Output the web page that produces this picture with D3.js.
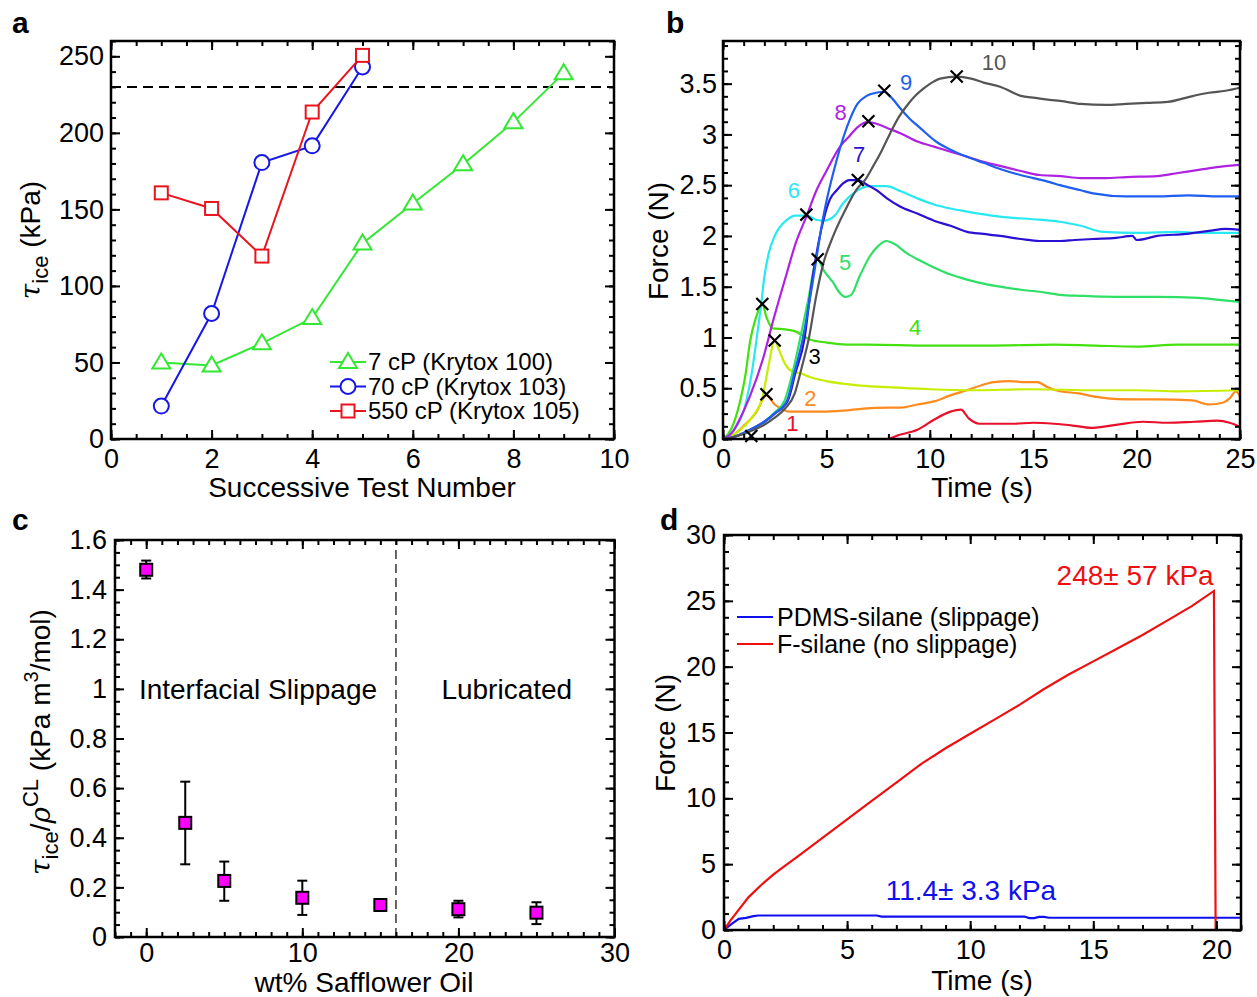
<!DOCTYPE html>
<html>
<head>
<meta charset="utf-8">
<script src="https://cdn.jsdelivr.net/npm/d3@7"></script>
<style>
  body { margin: 0; background: #fff; }
  text { font-family: "Liberation Sans", Arial, sans-serif; fill: #000; }
</style>
</head>
<body>
<script>
// ---- panel a: ice adhesion vs successive test number ----
const aTests103 = [1, 2, 3, 4, 5];
const aTests100 = [1, 2, 3, 4, 5, 6, 7, 8, 9];
const aKrytox100 = [50, 48, 62.5, 79, 127.7, 153.8, 179.5, 207, 239];
const aKrytox103 = [21.5, 82, 180.6, 191.5, 243];
const aKrytox105 = [160.8, 150.6, 119.5, 213.6, 250.6];
const aThreshold = 230;
const aLegend = ["7 cP (Krytox 100)", "70 cP (Krytox 103)", "550 cP (Krytox 105)"];
const aXTicks = [0, 2, 4, 6, 8, 10];
const aYTicks = [0, 50, 100, 150, 200, 250];

// ---- panel b: force traces, [time s, force N] ----
const bCurve1 = [[0,0],[1,0],[3,0],[5,0],[7.9,0],[8.5,0.04],[9.4,0.09],[10.2,0.19],[11,0.27],[11.5,0.29],[11.9,0.2],[12.4,0.15],[13,0.15],[14,0.15],[15,0.16],[16,0.15],[17,0.13],[17.8,0.11],[19,0.14],[20.3,0.17],[21.5,0.16],[22.8,0.17],[23.9,0.18],[24.5,0.16],[25,0.12]];
const bCurve2 = [[0,0],[0.5,0.04],[1,0.13],[1.6,0.26],[2.1,0.43],[2.5,0.34],[2.8,0.3],[3.2,0.27],[4,0.27],[4.8,0.27],[5.8,0.28],[6.8,0.3],[8,0.31],[8.6,0.31],[9.4,0.34],[10.2,0.37],[11,0.43],[11.8,0.48],[12.5,0.53],[13.1,0.56],[13.9,0.57],[14.6,0.56],[15.2,0.56],[15.7,0.51],[16.3,0.47],[17.2,0.45],[17.9,0.42],[19.5,0.39],[21,0.39],[22.7,0.38],[23.5,0.34],[24.2,0.36],[24.5,0.4],[24.8,0.47],[25,0.42]];
const bCurve3 = [[0,0],[0.5,0.04],[1,0.12],[1.5,0.24],[1.9,0.4],[2.2,0.72],[2.5,0.97],[2.7,0.88],[3,0.74],[3.4,0.66],[3.7,0.65],[4.2,0.61],[5,0.57],[6,0.54],[7,0.52],[8,0.51],[10,0.49],[12,0.48],[15,0.49],[18,0.48],[20,0.48],[22,0.47],[25,0.48]];
const bCurve4 = [[0,0],[0.4,0.1],[0.8,0.35],[1.1,0.65],[1.3,0.95],[1.6,1.2],[1.9,1.33],[2.1,1.2],[2.4,1.09],[3,1.08],[3.5,1.06],[4.2,0.98],[5,0.95],[6,0.93],[7,0.93],[10,0.92],[13,0.92],[16,0.93],[18,0.92],[20,0.91],[22,0.93],[25,0.93]];
const bCurve5 = [[0,0],[0.5,0.02],[1,0.06],[1.5,0.11],[2,0.17],[2.5,0.26],[2.98,0.38],[3.3,0.6],[3.74,1],[4.1,1.35],[4.56,1.77],[4.9,1.65],[5.33,1.54],[5.6,1.45],[5.9,1.4],[6.2,1.42],[6.6,1.6],[7.1,1.8],[7.5,1.9],[7.9,1.95],[8.3,1.92],[8.88,1.83],[9.5,1.76],[10.2,1.69],[11,1.62],[11.8,1.57],[12.6,1.53],[13.4,1.5],[14.4,1.47],[15.3,1.45],[16.3,1.42],[17.3,1.41],[19,1.4],[21,1.4],[23,1.39],[24,1.37],[25,1.35]];
const bCurve6 = [[0,0],[0.5,0.08],[1.06,0.32],[1.39,0.65],[1.66,1.04],[1.85,1.33],[1.98,1.57],[2.2,1.82],[2.5,2],[3.1,2.16],[3.5,2.2],[4.05,2.2],[4.5,2.16],[4.9,2.15],[5.4,2.2],[5.8,2.32],[6.3,2.42],[6.7,2.47],[7.1,2.49],[7.9,2.49],[8.6,2.44],[9.4,2.37],[10.2,2.31],[11,2.27],[11.8,2.24],[13.4,2.19],[15.3,2.16],[16.3,2.14],[17.3,2.1],[18.4,2.04],[20,2.03],[22,2.04],[23,2.03],[25,2.03]];
const bCurve7 = [[0,0],[0.5,0.02],[1,0.06],[1.5,0.11],[2,0.17],[2.5,0.25],[3.14,0.38],[3.5,0.65],[3.95,1],[4.2,1.4],[4.5,1.8],[4.85,2.15],[5.17,2.36],[5.5,2.45],[5.82,2.52],[6.1,2.55],[6.5,2.55],[7,2.5],[7.43,2.45],[8,2.36],[8.56,2.29],[9.4,2.22],[10.2,2.15],[11,2.1],[11.8,2.04],[12.6,2.02],[13.4,2],[14.4,1.97],[15.3,1.95],[16.3,1.95],[17,1.96],[17.9,1.97],[19,1.98],[19.8,2],[20,1.96],[21,2],[22.4,2.02],[23.5,2.05],[24.3,2.07],[25,2.06]];
const bCurve8 = [[0,0],[0.5,0.08],[0.82,0.2],[1.3,0.42],[1.95,0.8],[2.43,1.17],[3.08,1.63],[3.5,1.92],[4.05,2.2],[4.5,2.44],[5,2.64],[5.66,2.88],[6.1,2.98],[6.5,3.07],[7,3.12],[7.5,3.1],[8.1,3.05],[8.6,3.01],[9.4,2.93],[10.2,2.88],[11,2.83],[11.8,2.78],[12.6,2.73],[13.4,2.69],[14.4,2.64],[15.3,2.6],[16.3,2.59],[17.3,2.57],[18.5,2.57],[19.5,2.58],[21,2.59],[22,2.62],[23,2.65],[24,2.68],[25,2.7]];
const bCurve9 = [[0,0],[0.5,0.02],[1,0.06],[1.5,0.11],[2,0.17],[2.5,0.25],[3.1,0.38],[3.45,0.65],[3.87,1],[4.3,1.5],[4.85,2.19],[5.5,2.75],[6.14,3.15],[6.5,3.3],[6.95,3.38],[7.4,3.41],[7.8,3.42],[8.2,3.35],[8.56,3.26],[9,3.16],[9.5,3.07],[10.3,2.93],[11,2.85],[11.8,2.78],[12.6,2.72],[13.4,2.66],[14.2,2.61],[15,2.57],[15.8,2.53],[16.3,2.5],[17.3,2.45],[17.9,2.42],[19.5,2.39],[21,2.39],[22.5,2.4],[24,2.39],[25,2.39]];
const bCurve10 = [[0,0],[0.5,0.02],[1,0.05],[1.5,0.09],[2,0.14],[2.5,0.21],[3,0.3],[3.47,0.45],[3.8,0.7],[4.16,1],[4.5,1.4],[4.84,1.72],[5.33,2],[5.9,2.25],[6.47,2.46],[6.9,2.56],[7.27,2.69],[7.7,2.85],[8.08,3.01],[8.5,3.17],[8.88,3.28],[9.3,3.38],[9.69,3.45],[10.1,3.51],[10.5,3.55],[11.3,3.57],[12,3.55],[12.6,3.51],[13.4,3.47],[14.4,3.38],[15.1,3.36],[15.8,3.34],[16.3,3.33],[17.3,3.3],[18.5,3.29],[19.5,3.3],[20.5,3.31],[21.5,3.32],[22.75,3.38],[23.5,3.41],[24.3,3.43],[25,3.46]];
const bColors = ["#e8102a", "#ff8a1e", "#c6ee00", "#44e010", "#2ee066", "#28e8f2", "#2a10d2", "#b022e2", "#1e5ef0", "#555555"];
const bPeaks = [[1.37,0.03],[2.1,0.44],[2.5,0.97],[1.9,1.33],[4.58,1.77],[4.03,2.21],[6.52,2.55],[7.03,3.13],[7.8,3.43],[11.3,3.57]];
const bLabelPos = [[3.36,0.15],[4.23,0.4],[4.43,0.81],[9.29,1.1],[5.9,1.74],[3.43,2.45],[6.58,2.8],[5.69,3.22],[8.85,3.51],[13.1,3.71]];
const bLabelColors = ["#e8102a", "#ff8a1e", "#000000", "#44e010", "#2ee066", "#28e8f2", "#2a10d2", "#b022e2", "#1e5ef0", "#555555"];
const bXTicks = [0, 5, 10, 15, 20, 25];
const bYTicks = [0, 0.5, 1, 1.5, 2, 2.5, 3, 3.5];

// ---- panel c: normalised adhesion vs safflower oil ----
const cOil = [0, 2.5, 5, 10, 15, 20, 25];
const cMean = [1.48, 0.46, 0.226, 0.158, 0.129, 0.112, 0.098];
const cLow = [1.445, 0.293, 0.146, 0.089, 0.105, 0.079, 0.052];
const cHigh = [1.517, 0.626, 0.304, 0.227, 0.152, 0.146, 0.14];
const cBoundary = 16;
const cXTicks = [0, 10, 20, 30];
const cYTicks = [0, 0.2, 0.4, 0.6, 0.8, 1, 1.2, 1.4, 1.6];

// ---- panel d: force traces, [time s, force N] ----
const dPdms = [[0,0],[0.3,0.45],[0.6,0.85],[0.9,0.92],[1.2,1.05],[1.4,1.1],[6.2,1.1],[6.4,1.02],[12.2,1.02],[12.4,0.9],[12.6,0.9],[12.8,1.0],[13,1.0],[13.2,0.93],[21,0.93]];
const dFsilane = [[0,0],[0.25,0.7],[0.5,1.3],[1,2.5],[1.5,3.4],[2,4.2],[2.5,4.9],[3,5.6],[4,7.0],[5,8.4],[6,9.8],[7,11.2],[8,12.6],[9,13.8],[10,14.9],[11,16],[12,17.1],[13,18.3],[14,19.4],[15,20.4],[16,21.4],[17,22.4],[18,23.5],[19,24.6],[19.9,25.75],[19.97,0],[21,0]];
const dLegend = ["PDMS-silane (slippage)", "F-silane (no slippage)"];
const dXTicks = [0, 5, 10, 15, 20];
const dYTicks = [0, 5, 10, 15, 20, 25, 30];

const W = 1257, H = 997;
const svg = d3.select("body").append("svg").attr("width", W).attr("height", H);
const fmt = d3.format("~g");

// frame with inward ticks on all four sides
function frame(g, x, y, o) {
  const [y0, y1] = y.range(), [x0, x1] = x.range();
  const add = (axis, tr) => g.append("g").attr("transform", tr).call(axis)
    .call(s => s.select(".domain").remove())
    .call(s => s.selectAll("line").attr("stroke", "#000").attr("stroke-width", 2))
    .call(s => s.selectAll("text").attr("font-size", 27).attr("font-family", null).attr("fill", "#000"));
  add(d3.axisBottom(x).tickValues(o.xMajor).tickSize(-9).tickPadding(o.padX).tickFormat(fmt), `translate(0,${y0})`);
  add(d3.axisBottom(x).tickValues(o.xMinor).tickSize(-5).tickFormat(""), `translate(0,${y0})`);
  add(d3.axisTop(x).tickValues(o.xMajor).tickSize(-9).tickFormat(""), `translate(0,${y1})`);
  add(d3.axisTop(x).tickValues(o.xMinor).tickSize(-5).tickFormat(""), `translate(0,${y1})`);
  add(d3.axisLeft(y).tickValues(o.yMajor).tickSize(-9).tickPadding(o.padY).tickFormat(fmt), `translate(${x0},0)`);
  add(d3.axisLeft(y).tickValues(o.yMinor).tickSize(-5).tickFormat(""), `translate(${x0},0)`);
  add(d3.axisRight(y).tickValues(o.yMajor).tickSize(-9).tickFormat(""), `translate(${x1},0)`);
  add(d3.axisRight(y).tickValues(o.yMinor).tickSize(-5).tickFormat(""), `translate(${x1},0)`);
  g.append("rect").attr("x", x0).attr("y", y1).attr("width", x1 - x0).attr("height", y0 - y1)
    .attr("fill", "none").attr("stroke", "#000").attr("stroke-width", 2.5);
}

function steps(a, b, s) { return d3.range(a, b + s / 2, s); }

function panelLetter(t, x, y) {
  svg.append("text").attr("x", x).attr("y", y).attr("font-size", 30).attr("font-weight", "bold").text(t);
}

function xLabel(t, x, y) {
  svg.append("text").attr("x", x).attr("y", y).attr("text-anchor", "middle").attr("font-size", 28).text(t);
}

// ================= panel a =================
{
  const x = d3.scaleLinear().domain([0, 10]).range([111, 614]);
  const y = d3.scaleLinear().domain([0, 260]).range([439, 41]);
  const g = svg.append("g");
  g.append("line").attr("x1", x(0)).attr("x2", x(10)).attr("y1", y(aThreshold)).attr("y2", y(aThreshold))
    .attr("stroke", "#000").attr("stroke-width", 2).attr("stroke-dasharray", "10,6");

  const tri = "M0,-9L9,6L-9,6Z";
  const series = [
    { xs: aTests100, ys: aKrytox100, color: "#33e833", mark: "tri" },
    { xs: aTests103, ys: aKrytox103, color: "#1616e8", mark: "circle" },
    { xs: aTests103, ys: aKrytox105, color: "#e8141e", mark: "square" }
  ];
  const line = d3.line().x(d => x(d[0])).y(d => y(d[1]));
  function marker(sel, kind, color) {
    if (kind === "tri") sel.append("path").attr("d", tri);
    else if (kind === "circle") sel.append("circle").attr("r", 7.5);
    else sel.append("rect").attr("x", -6.5).attr("y", -6.5).attr("width", 13).attr("height", 13);
    sel.selectAll("path,circle,rect").attr("fill", "#fff").attr("stroke", color).attr("stroke-width", 2);
  }
  series.forEach(s => {
    const pts = d3.zip(s.xs, s.ys);
    g.append("path").datum(pts).attr("d", line).attr("fill", "none").attr("stroke", s.color).attr("stroke-width", 2);
    g.selectAll(null).data(pts).join("g").attr("transform", d => `translate(${x(d[0])},${y(d[1])})`)
      .each(function () { marker(d3.select(this), s.mark, s.color); });
  });
  // legend
  series.forEach((s, i) => {
    const ly = 362 + i * 24.5;
    g.append("line").attr("x1", 330).attr("x2", 366).attr("y1", ly).attr("y2", ly).attr("stroke", s.color).attr("stroke-width", 2);
    const m = g.append("g").attr("transform", `translate(348,${ly})`);
    marker(m, s.mark, s.color);
    g.append("text").attr("x", 368).attr("y", ly).attr("dy", "0.35em").attr("font-size", 24).text(aLegend[i]);
  });
  frame(g, x, y, { xMajor: aXTicks, xMinor: steps(0, 10, 0.5), yMajor: aYTicks, yMinor: steps(0, 260, 10), padX: 10, padY: 7 });
  xLabel("Successive Test Number", 362, 497);
  const yl = svg.append("text").attr("transform", "translate(40,240) rotate(-90)").attr("text-anchor", "middle").attr("font-size", 28);
  yl.append("tspan").attr("font-style", "italic").attr("font-family", "DejaVu Serif").text("τ");
  yl.append("tspan").attr("dy", 8).attr("font-size", 22).text("ice");
  yl.append("tspan").attr("dy", -8).text(" (kPa)");
  panelLetter("a", 12, 33);
}

// ================= panel b =================
{
  const x = d3.scaleLinear().domain([0, 25]).range([723, 1240]);
  const y = d3.scaleLinear().domain([0, 3.92]).range([439, 41]);
  const g = svg.append("g");
  const curves = [bCurve1, bCurve2, bCurve3, bCurve4, bCurve5, bCurve6, bCurve7, bCurve8, bCurve9, bCurve10];
  const line = d3.line().x(d => x(d[0])).y(d => y(d[1])).curve(d3.curveMonotoneX);
  curves.forEach((c, i) => {
    g.append("path").datum(c).attr("d", line).attr("fill", "none").attr("stroke", bColors[i]).attr("stroke-width", 2.2);
  });
  g.selectAll(null).data(bPeaks).join("path")
    .attr("transform", d => `translate(${x(d[0])},${y(d[1])})`)
    .attr("d", "M-6,-6L6,6M-6,6L6,-6").attr("stroke", "#000").attr("stroke-width", 2.2);
  g.selectAll(null).data(bLabelPos).join("text")
    .attr("x", d => x(d[0])).attr("y", d => y(d[1])).attr("dy", "0.35em").attr("text-anchor", "middle")
    .attr("font-size", 22).style("fill", (d, i) => bLabelColors[i])
    .text((d, i) => i + 1);
  frame(g, x, y, { xMajor: bXTicks, xMinor: steps(0, 25, 1), yMajor: bYTicks, yMinor: steps(0, 3.9, 0.125), padX: 10, padY: 6 });
  xLabel("Time (s)", 982, 497);
  svg.append("text").attr("transform", "translate(668,241) rotate(-90)").attr("text-anchor", "middle").attr("font-size", 28).text("Force (N)");
  panelLetter("b", 666, 33);
}

// ================= panel c =================
{
  const x = d3.scaleLinear().domain([-2, 30]).range([115, 614.5]);
  const y = d3.scaleLinear().domain([0, 1.6]).range([937, 540]);
  const g = svg.append("g");
  g.append("line").attr("x1", x(cBoundary)).attr("x2", x(cBoundary)).attr("y1", y(0)).attr("y2", y(1.6))
    .attr("stroke", "#000").attr("stroke-width", 1.2).attr("stroke-dasharray", "9,5");
  const pts = cOil.map((v, i) => ({ x: v, m: cMean[i], lo: cLow[i], hi: cHigh[i] }));
  const eb = g.selectAll(null).data(pts).join("g");
  eb.append("line").attr("x1", d => x(d.x)).attr("x2", d => x(d.x)).attr("y1", d => y(d.lo)).attr("y2", d => y(d.hi))
    .attr("stroke", "#000").attr("stroke-width", 2);
  eb.append("line").attr("x1", d => x(d.x) - 5).attr("x2", d => x(d.x) + 5).attr("y1", d => y(d.lo)).attr("y2", d => y(d.lo))
    .attr("stroke", "#000").attr("stroke-width", 2);
  eb.append("line").attr("x1", d => x(d.x) - 5).attr("x2", d => x(d.x) + 5).attr("y1", d => y(d.hi)).attr("y2", d => y(d.hi))
    .attr("stroke", "#000").attr("stroke-width", 2);
  eb.append("rect").attr("x", d => x(d.x) - 6).attr("y", d => y(d.m) - 6).attr("width", 12).attr("height", 12)
    .attr("fill", "#ff00ff").attr("stroke", "#000").attr("stroke-width", 2);
  g.append("text").attr("x", x(7.16)).attr("y", y(1)).attr("dy", "0.35em").attr("text-anchor", "middle").attr("font-size", 28).text("Interfacial Slippage");
  g.append("text").attr("x", x(23.1)).attr("y", y(1)).attr("dy", "0.35em").attr("text-anchor", "middle").attr("font-size", 28).text("Lubricated");
  frame(g, x, y, { xMajor: cXTicks, xMinor: steps(-2, 30, 1), yMajor: cYTicks, yMinor: steps(0, 1.6, 0.05), padX: 6, padY: 8 });
  xLabel("wt% Safflower Oil", 364, 992);
  const yl = svg.append("text").attr("transform", "translate(50,742) rotate(-90)").attr("text-anchor", "middle").attr("font-size", 28);
  yl.append("tspan").attr("font-style", "italic").attr("font-family", "DejaVu Serif").text("τ");
  yl.append("tspan").attr("dy", 8).attr("font-size", 22).text("ice");
  yl.append("tspan").attr("dy", -8).text("/");
  yl.append("tspan").attr("font-style", "italic").attr("font-family", "DejaVu Serif").text("ρ");
  yl.append("tspan").attr("dy", -12).attr("font-size", 22).text("CL");
  yl.append("tspan").attr("dy", 12).text(" (kPa m");
  yl.append("tspan").attr("dy", -12).attr("font-size", 20).text("3");
  yl.append("tspan").attr("dy", 12).text("/mol)");
  panelLetter("c", 12, 530);
}

// ================= panel d =================
{
  const x = d3.scaleLinear().domain([0, 21]).range([724, 1241]);
  const y = d3.scaleLinear().domain([0, 30]).range([930, 535]);
  const g = svg.append("g");
  const line = d3.line().x(d => x(d[0])).y(d => y(d[1]));
  g.append("path").datum(dPdms).attr("d", line).attr("fill", "none").attr("stroke", "#1010ee").attr("stroke-width", 2.2);
  g.append("path").datum(dFsilane).attr("d", line).attr("fill", "none").attr("stroke", "#ee1010").attr("stroke-width", 2.2);
  [["#1010ee", 617], ["#ee1010", 644]].forEach(([c, ly], i) => {
    g.append("line").attr("x1", 737).attr("x2", 773).attr("y1", ly).attr("y2", ly).attr("stroke", c).attr("stroke-width", 2.2);
    g.append("text").attr("x", 777).attr("y", ly).attr("dy", "0.35em").attr("font-size", 25).text(dLegend[i]);
  });
  g.append("text").attr("x", x(16.7)).attr("y", y(26.95)).attr("dy", "0.35em").attr("text-anchor", "middle")
    .attr("font-size", 28).style("fill", "#ee1010").text("248\u00b1 57 kPa");
  g.append("text").attr("x", x(10.03)).attr("y", y(3.04)).attr("dy", "0.35em").attr("text-anchor", "middle")
    .attr("font-size", 28).style("fill", "#1010ee").text("11.4\u00b1 3.3 kPa");
  frame(g, x, y, { xMajor: dXTicks, xMinor: steps(0, 21, 1), yMajor: dYTicks, yMinor: steps(0, 30, 1.25), padX: 10, padY: 8 });
  xLabel("Time (s)", 982, 990);
  svg.append("text").attr("transform", "translate(675,733) rotate(-90)").attr("text-anchor", "middle").attr("font-size", 28).text("Force (N)");
  panelLetter("d", 660, 530);
}
</script>
</body>
</html>
